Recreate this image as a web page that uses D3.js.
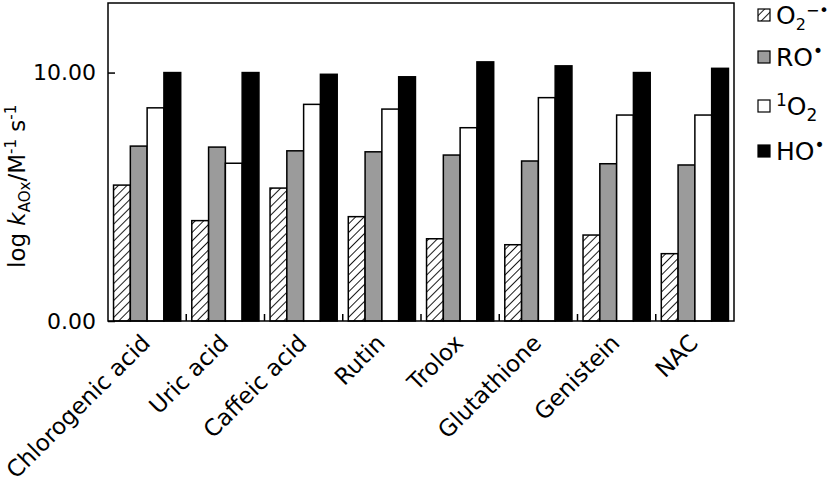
<!DOCTYPE html>
<html>
<head>
<meta charset="utf-8">
<script src="https://cdn.jsdelivr.net/npm/d3@7"></script>
<style>
  body { margin: 0; background: #fff; }
  text { font-family: "DejaVu Sans", Verdana, sans-serif; }
</style>
</head>
<body>
<div id="display"></div>
<script>
var compounds = ["Chlorogenic acid", "Uric acid", "Caffeic acid", "Rutin", "Trolox", "Glutathione", "Genistein", "NAC"]
var seriesKeys = ["superoxide", "alkoxyl", "singlet", "hydroxyl"]
var superoxide = [5.47, 4.04, 5.35, 4.20, 3.31, 3.07, 3.46, 2.71]
var alkoxyl = [7.04, 7.00, 6.85, 6.81, 6.68, 6.44, 6.33, 6.28]
var singlet = [8.58, 6.35, 8.72, 8.53, 7.78, 8.99, 8.29, 8.29]
var hydroxyl = [10.00, 10.00, 9.93, 9.83, 10.43, 10.27, 10.00, 10.17]
var yTicks = [0, 10]

var values = {superoxide: superoxide, alkoxyl: alkoxyl, singlet: singlet, hydroxyl: hydroxyl}
var fills = {superoxide: "url(#hatch)", alkoxyl: "#9b9b9b", singlet: "#fff", hydroxyl: "#000"}

var width = 830, height = 492;
var margin = {left: 108, right: 96, top: 3, bottom: 171};

var svg = d3.select("#display")
    .append("svg")
    .attr("width", width)
    .attr("height", height);

var defs = svg.append("defs");
var pat = defs.append("pattern")
    .attr("id", "hatch")
    .attr("patternUnits", "userSpaceOnUse")
    .attr("width", 6)
    .attr("height", 6)
    .attr("patternTransform", "rotate(45)");
pat.append("rect").attr("width", 6).attr("height", 6).attr("fill", "#fff");
pat.append("line")
    .attr("x1", 0).attr("y1", 0).attr("x2", 0).attr("y2", 6)
    .attr("stroke", "#000").attr("stroke-width", 1.8);

x = d3.scaleBand()
    .domain(compounds)
    .range([margin.left, width - margin.right])
    .paddingInner(0)
    .paddingOuter(0)

xs = d3.scaleBand()
    .domain(seriesKeys)
    .range([0, x.bandwidth()])
    .paddingOuter(0.33)
    .paddingInner(0)

y = d3.scaleLinear()
    .domain([0, 12.8])
    .range([height - margin.bottom, margin.top])

// bars
var groups = svg.append("g")
  .selectAll("g")
  .data(compounds)
  .join("g")
    .attr("transform", d => "translate(" + x(d) + ",0)");

groups.selectAll("rect")
  .data((d, i) => seriesKeys.map(k => ({key: k, value: values[k][i]})))
  .join("rect")
    .attr("x", d => xs(d.key))
    .attr("y", d => y(d.value))
    .attr("width", xs.bandwidth())
    .attr("height", d => y(0) - y(d.value))
    .attr("fill", d => fills[d.key])
    .attr("stroke", "#000")
    .attr("stroke-width", 1.5);

// frame
svg.append("rect")
    .attr("x", margin.left)
    .attr("y", margin.top)
    .attr("width", width - margin.left - margin.right)
    .attr("height", height - margin.top - margin.bottom)
    .attr("fill", "none")
    .attr("stroke", "#000")
    .attr("stroke-width", 1.5);

// y axis ticks inside
var yAxis = d3.axisLeft(y)
    .tickValues(yTicks)
    .tickSize(-7)
    .tickPadding(12)
    .tickFormat(d3.format(".2f"));

svg.append("g")
    .attr("transform", "translate(" + margin.left + ",0)")
    .call(yAxis)
    .call(g => g.select(".domain").remove())
    .call(g => g.selectAll("line").attr("stroke-width", 1.5))
    .call(g => g.selectAll("text").style("font-size", "22px").attr("fill", "#000"));

// group separator ticks on bottom
svg.append("g")
  .selectAll("line")
  .data(compounds.slice(1))
  .join("line")
    .attr("x1", d => x(d))
    .attr("x2", d => x(d))
    .attr("y1", y(0))
    .attr("y2", y(0) - 7)
    .attr("stroke", "#000")
    .attr("stroke-width", 1.5);

// category labels
svg.append("g")
  .selectAll("text")
  .data(compounds)
  .join("text")
    .attr("transform", d => "translate(" + (x(d) + x.bandwidth() / 2 - 7) + "," + (y(0) + 12) + ") rotate(-45)")
    .attr("text-anchor", "end")
    .attr("dy", "0.7em")
    .style("font-size", "23px")
    .text(d => d);

// y label
var yl = svg.append("text")
    .attr("transform", "translate(25,268) rotate(-90)")
    .attr("text-anchor", "start")
    .style("font-size", "23px");
yl.append("tspan").text("log ");
yl.append("tspan").style("font-style", "italic").text("k");
yl.append("tspan").attr("dy", 5).style("font-size", "15px").text("AOx");
yl.append("tspan").attr("dy", -5).text("/M");
yl.append("tspan").attr("dy", -9).style("font-size", "15px").text("-1");
yl.append("tspan").attr("dy", 9).text(" s");
yl.append("tspan").attr("dy", -9).style("font-size", "15px").text("-1");

// legend
var legendY = [15, 57, 106, 151];
var lg = svg.append("g")
  .selectAll("g")
  .data(seriesKeys)
  .join("g")
    .attr("transform", (d, i) => "translate(758," + legendY[i] + ")");

lg.append("rect")
    .attr("x", 0)
    .attr("y", -6)
    .attr("width", 12)
    .attr("height", 12)
    .attr("fill", d => fills[d])
    .attr("stroke", "#000")
    .attr("stroke-width", 1.2);

var lt = lg.append("text")
    .attr("x", 18)
    .attr("y", 9)
    .style("font-size", "25px");

lt.each(function(d) {
  var t = d3.select(this);
  if (d === "superoxide") {
    t.append("tspan").text("O");
    t.append("tspan").attr("dy", 6).style("font-size", "16px").text("2");
    t.append("tspan").attr("dy", -14).style("font-size", "16px").text("\u2212\u2022");
  } else if (d === "alkoxyl") {
    t.append("tspan").text("RO");
    t.append("tspan").attr("dy", -9).style("font-size", "17px").text("\u2022");
  } else if (d === "singlet") {
    t.append("tspan").attr("dy", -9).style("font-size", "17px").text("1");
    t.append("tspan").attr("dy", 9).text("O");
    t.append("tspan").attr("dy", 6).style("font-size", "17px").text("2");
  } else {
    t.append("tspan").text("HO");
    t.append("tspan").attr("dy", -9).style("font-size", "17px").text("\u2022");
  }
});
</script>
</body>
</html>
